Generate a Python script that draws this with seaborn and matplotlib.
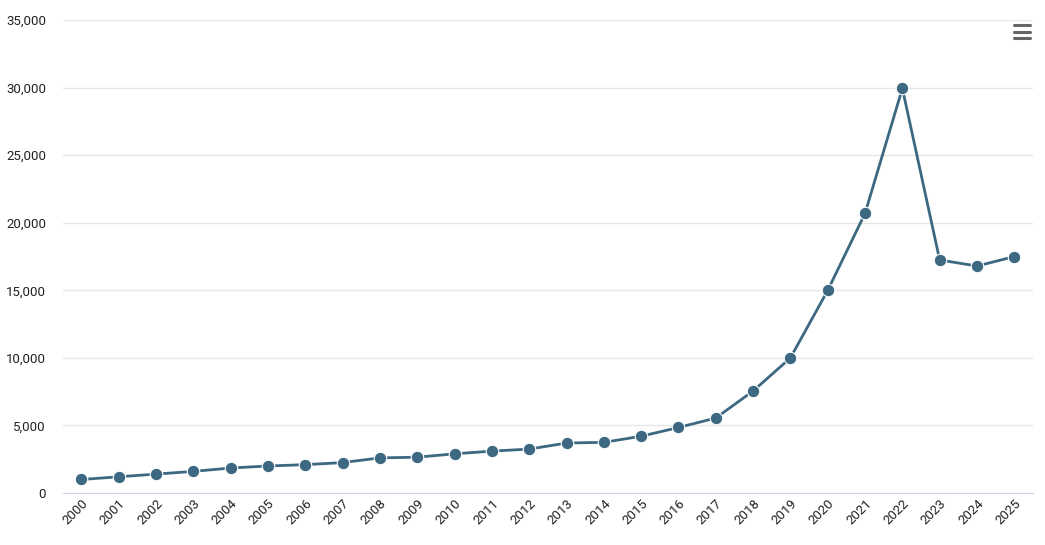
import numpy as np
import pandas as pd
import matplotlib
matplotlib.use("Agg")
import matplotlib.pyplot as plt
import seaborn as sns
from matplotlib.lines import Line2D

# data
years = [str(y) for y in range(2000, 2026)]
values = [1000, 1200, 1400, 1600, 1850, 2000, 2100, 2250, 2600, 2650,
          2900, 3100, 3250, 3700, 3750, 4200, 4850, 5550, 7550, 10000,
          15000, 20700, 29950, 17250, 16800, 17500]
yticks = [0, 5000, 10000, 15000, 20000, 25000, 30000, 35000]

df = pd.DataFrame({"year": years, "value": values})

sns.set_style("white")
plt.rcParams["font.family"] = ["Roboto", "DejaVu Sans"]

fig = plt.figure(figsize=(10.45, 5.45), dpi=100)
ax = fig.add_axes([0.060, 0.0954, 0.9285, 0.8676])

sns.lineplot(data=df, x="year", y="value", ax=ax, color="#3d6882",
             linewidth=2, marker="o", markersize=9,
             markeredgecolor="white", markeredgewidth=0.8, sort=False)

ax.set_xlim(-0.5, len(years) - 0.5)
ax.set_ylim(0, 35000)
ax.set_yticks(yticks)
ax.set_yticklabels([f"{v:,}" for v in yticks])
ax.grid(axis="y", color="#e6e6e6", linewidth=1)
ax.set_axisbelow(True)
ax.set_xlabel("")
ax.set_ylabel("")
for s in ["top", "right", "left"]:
    ax.spines[s].set_visible(False)
ax.spines["bottom"].set_color("#ccd6eb")
ax.tick_params(axis="y", length=0, labelsize=9.5, colors="#222222", pad=12)
ax.tick_params(axis="x", length=0, labelsize=9.5, colors="#222222", pad=3)
plt.setp(ax.get_xticklabels(), rotation=45, ha="right", rotation_mode="anchor")

# menu icon in the top-right corner
for yy in [25, 31.5, 38]:
    fig.add_artist(Line2D([1014 / 1045, 1030 / 1045],
                          [1 - yy / 545, 1 - yy / 545],
                          color="#666666", linewidth=2.2))

fig.savefig("out.png", dpi=100)
